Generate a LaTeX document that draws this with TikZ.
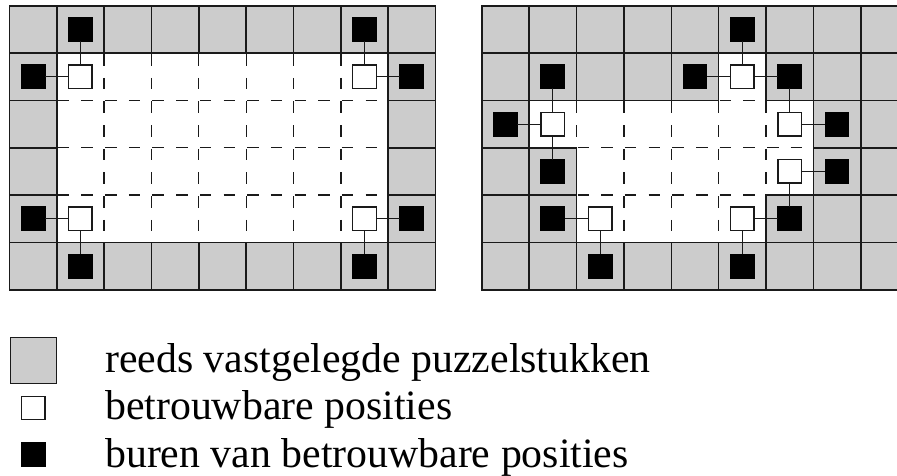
\documentclass[tikz,border=0pt]{standalone}
\usepackage{fontspec}
\setmainfont{Liberation Serif}
\newcommand\wcell[3]{\expandafter\gdef\csname wc#1-#2-#3\endcsname{}}
\newcommand\sqnode[5]{\node[#2] (#1) at ({#3+(#5+0.5)*47.35},{5.7+(#4+0.5)*47.35}) {};}
% white cells of the left grid
\foreach \r in {1,...,4}{\foreach \c in {1,...,7}{\wcell{L}{\r}{\c}}}
% white cells of the right grid
\wcell{R}{1}{5}
\foreach \c in {1,...,6}{\wcell{R}{2}{\c}}
\foreach \c in {2,...,6}{\wcell{R}{3}{\c}}
\foreach \c in {2,...,5}{\wcell{R}{4}{\c}}
\definecolor{piecegray}{HTML}{CCCCCC}
\definecolor{ink}{HTML}{1A1A1A}
\tikzset{
  solidgrid/.style={draw=ink, line width=1.6pt, line cap=rect},
  dashgrid/.style={draw=ink, line width=1.3pt, dash pattern=on 11.5pt off 12.2pt, dash phase=22.7pt},
  trusted/.style={draw=ink, fill=white, line width=1.4pt, minimum size=23.5pt, inner sep=0pt, outer sep=0pt},
  nbr/.style={draw=black, fill=black, line width=1.4pt, minimum size=23.5pt, inner sep=0pt, outer sep=0pt},
  legendgray/.style={draw=ink, fill=piecegray, line width=1.5pt, minimum size=46pt, inner sep=0pt},
  link/.style={draw=ink, line width=1.1pt},
  legtext/.style={anchor=base west, inner sep=0pt, font=\fontsize{41.8}{48}\selectfont}
}
\begin{document}
\begin{tikzpicture}[x=1pt, y=-1pt]
\useasboundingbox (0,0) rectangle (897,475);
\clip (0,0) rectangle (897,475);
\def\cs{47.35}
\def\yo{5.7}
\foreach \g/\xo in {L/9.4,R/481.9}{
  \fill[piecegray] (\xo,\yo) rectangle ++(9*\cs,6*\cs);
  \foreach \r in {0,...,5}{\foreach \c in {0,...,8}{
    \ifcsname wc\g-\r-\c\endcsname
      \fill[white] ({\xo+\c*\cs},{\yo+\r*\cs}) rectangle ++(\cs,\cs);
    \fi
  }}
  % vertical edges
  \foreach \r in {0,...,5}{\foreach \k in {0,...,9}{
    \pgfmathtruncatemacro\kl{\k-1}
    \def\dsh{0}
    \ifcsname wc\g-\r-\kl\endcsname\ifcsname wc\g-\r-\k\endcsname\def\dsh{1}\fi\fi
    \ifnum\dsh=1
      \draw[dashgrid] ({\xo+\k*\cs},{\yo+\r*\cs}) -- ++(0,\cs);
    \else
      \draw[solidgrid] ({\xo+\k*\cs},{\yo+\r*\cs}) -- ++(0,\cs);
    \fi
  }}
  % horizontal edges
  \foreach \k in {0,...,6}{\foreach \c in {0,...,8}{
    \pgfmathtruncatemacro\kl{\k-1}
    \def\dsh{0}
    \ifcsname wc\g-\kl-\c\endcsname\ifcsname wc\g-\k-\c\endcsname\def\dsh{1}\fi\fi
    \ifnum\dsh=1
      \draw[dashgrid] ({\xo+\c*\cs},{\yo+\k*\cs}) -- ++(\cs,0);
    \else
      \draw[solidgrid] ({\xo+\c*\cs},{\yo+\k*\cs}) -- ++(\cs,0);
    \fi
  }}
}
% left grid: trusted positions and neighbours
\sqnode{Lw1}{trusted}{9.4}{1}{1}
\sqnode{Lw2}{trusted}{9.4}{1}{7}
\sqnode{Lw3}{trusted}{9.4}{4}{1}
\sqnode{Lw4}{trusted}{9.4}{4}{7}
\sqnode{Lb1}{nbr}{9.4}{0}{1}
\sqnode{Lb2}{nbr}{9.4}{1}{0}
\sqnode{Lb3}{nbr}{9.4}{0}{7}
\sqnode{Lb4}{nbr}{9.4}{1}{8}
\sqnode{Lb5}{nbr}{9.4}{4}{0}
\sqnode{Lb6}{nbr}{9.4}{5}{1}
\sqnode{Lb7}{nbr}{9.4}{4}{8}
\sqnode{Lb8}{nbr}{9.4}{5}{7}
\foreach \a/\b in {Lw1/Lb1,Lw1/Lb2,Lw2/Lb3,Lw2/Lb4,Lw3/Lb5,Lw3/Lb6,Lw4/Lb7,Lw4/Lb8}
  \draw[link] (\a) -- (\b);
% right grid
\sqnode{Rw1}{trusted}{481.9}{1}{5}
\sqnode{Rw2}{trusted}{481.9}{2}{1}
\sqnode{Rw3}{trusted}{481.9}{2}{6}
\sqnode{Rw4}{trusted}{481.9}{3}{6}
\sqnode{Rw5}{trusted}{481.9}{4}{2}
\sqnode{Rw6}{trusted}{481.9}{4}{5}
\sqnode{Rb1}{nbr}{481.9}{0}{5}
\sqnode{Rb2}{nbr}{481.9}{1}{4}
\sqnode{Rb3}{nbr}{481.9}{1}{6}
\sqnode{Rb4}{nbr}{481.9}{1}{1}
\sqnode{Rb5}{nbr}{481.9}{2}{0}
\sqnode{Rb6}{nbr}{481.9}{3}{1}
\sqnode{Rb7}{nbr}{481.9}{2}{7}
\sqnode{Rb8}{nbr}{481.9}{3}{7}
\sqnode{Rb9}{nbr}{481.9}{4}{6}
\sqnode{Rb10}{nbr}{481.9}{4}{1}
\sqnode{Rb11}{nbr}{481.9}{5}{2}
\sqnode{Rb12}{nbr}{481.9}{5}{5}
\foreach \a/\b in {Rw1/Rb1,Rw1/Rb2,Rw1/Rb3,Rw2/Rb4,Rw2/Rb5,Rw2/Rb6,Rw3/Rb3,Rw3/Rb7,Rw4/Rb8,Rw4/Rb9,Rw5/Rb10,Rw5/Rb11,Rw6/Rb9,Rw6/Rb12}
  \draw[link] (\a) -- (\b);
% legend
\node[legendgray] (lg1) at (33.3,360.3) {};
\node[trusted] (lg2) at (33.4,408) {};
\node[nbr] (lg3) at (33.4,454.6) {};
\node[legtext] (lt1) at (105,372) {reeds vastgelegde puzzelstukken};
\node[legtext] (lt2) at (105,419.5) {betrouwbare posities};
\node[legtext] (lt3) at (105,467) {buren van betrouwbare posities};
\end{tikzpicture}
\end{document}
